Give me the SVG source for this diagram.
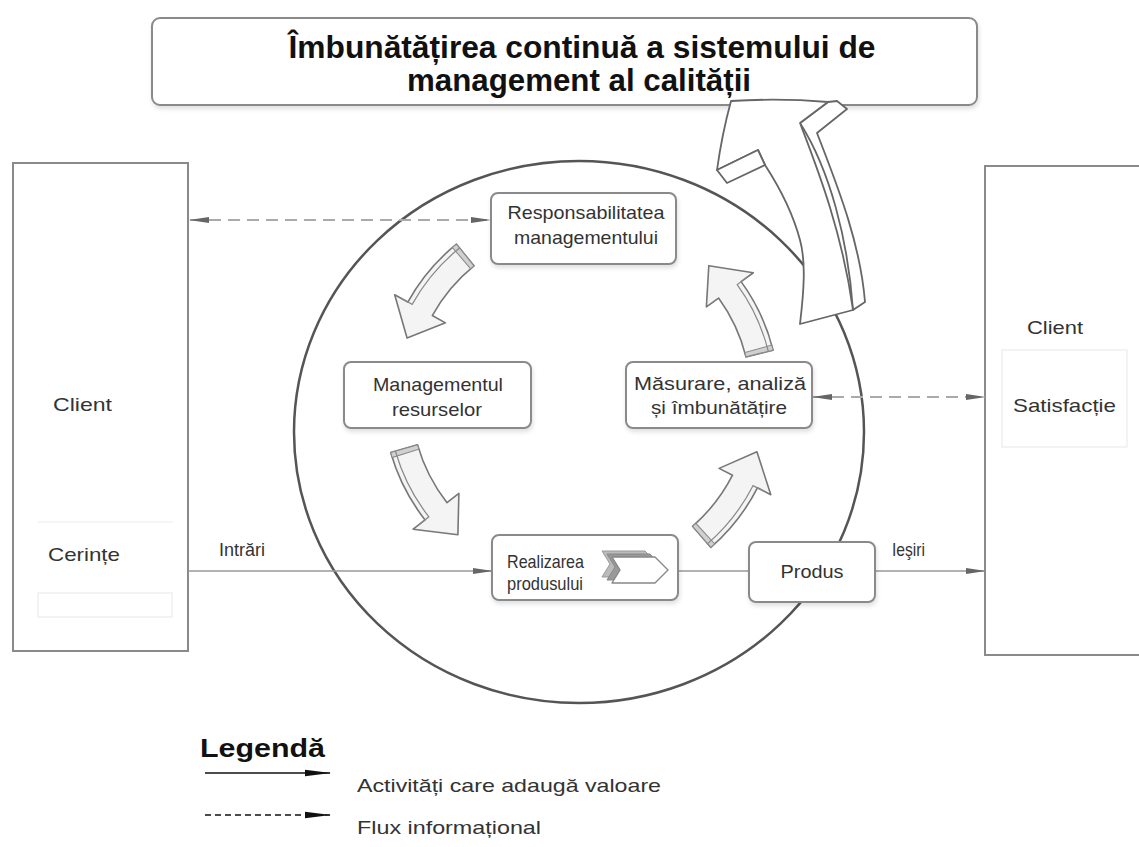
<svg xmlns="http://www.w3.org/2000/svg" width="1139" height="847" viewBox="0 0 1139 847">
<style>
 .box{fill:#fff;stroke:#8a8a8a;stroke-width:2}
 .sh{filter:url(#shadow)}
 .faint{fill:none;stroke:#ececec;stroke-width:1.2}
 .t{font-family:"Liberation Sans",Arial,sans-serif;fill:#333;font-size:19px}
 .title{font-family:"Liberation Sans",Arial,sans-serif;font-weight:bold;fill:#111;font-size:31px}
 .solid{stroke:#999;stroke-width:1.6;fill:none}
 .dash{stroke:#aaa;stroke-width:2;fill:none;stroke-dasharray:12 7}
 .carrow{fill:#f4f4f4;stroke:#777;stroke-width:1.6;stroke-linejoin:round}
 .c3d{fill:none;stroke:#888;stroke-width:1.2}
 .big{fill:#fff;stroke:#666;stroke-width:1.8;stroke-linejoin:round}
</style>
<defs>
 <filter id="shadow" x="-10%" y="-10%" width="130%" height="140%">
  <feDropShadow dx="1" dy="3" stdDeviation="2" flood-color="#000" flood-opacity="0.12"/>
 </filter>
 <marker id="ah" viewBox="0 0 20 8" markerWidth="20" markerHeight="8" refX="19" refY="4" orient="auto-start-reverse" markerUnits="userSpaceOnUse">
  <path d="M0,1 L20,4 L0,7 Z" fill="#666"/>
 </marker>
 <marker id="ahk" viewBox="0 0 26 8" markerWidth="26" markerHeight="8" refX="25" refY="4" orient="auto" markerUnits="userSpaceOnUse">
  <path d="M0,0.8 L26,4 L0,7.2 Z" fill="#111"/>
 </marker>
 <g id="cyc">
  <path class="carrow" d="M189.3,57.9 A198,198 0 0 0 197.2,-17.3 L212.2,-18.6 L177.7,-47.6 L154.4,-13.5 L169.4,-14.8 A170,170 0 0 1 162.6,49.7 Z"/>
  <path d="M189.3,57.9 L162.6,49.7 L163.8,45.4 L190.8,52.9 Z" fill="#d0d0d0" stroke="#888" stroke-width="1"/>
  <path class="c3d" d="M184.6,56.4 A193,193 0 0 0 192.3,-16.8 L205,-17.9"/>
 </g>
</defs>

<g id="title">
 <rect class="box sh" x="152" y="18" width="825" height="87" rx="8"/>
 <text class="title" x="582" y="58" text-anchor="middle" textLength="587" lengthAdjust="spacingAndGlyphs">Îmbunătățirea continuă a sistemului de</text>
 <text class="title" x="579" y="91" text-anchor="middle" textLength="344" lengthAdjust="spacingAndGlyphs">management al calității</text>
</g>

<g id="client-left">
 <rect class="box" x="13" y="163" width="175" height="488"/>
 <line class="faint" x1="38" y1="522" x2="173" y2="522"/>
 <rect class="faint" x="38" y="593" width="134" height="24"/>
 <text class="t" x="53" y="411" font-size="20" textLength="59" lengthAdjust="spacingAndGlyphs">Client</text>
 <text class="t" x="48" y="561" font-size="20" textLength="72" lengthAdjust="spacingAndGlyphs">Cerințe</text>
</g>

<g id="client-right">
 <rect class="box" x="985" y="166" width="200" height="489"/>
 <rect class="faint" x="1002" y="350" width="125" height="97"/>
 <text class="t" x="1027" y="334" font-size="20" textLength="56" lengthAdjust="spacingAndGlyphs">Client</text>
 <text class="t" x="1013" y="412" font-size="20" textLength="103" lengthAdjust="spacingAndGlyphs">Satisfacție</text>
</g>

<g id="cycle">
 <ellipse cx="579" cy="432" rx="285" ry="271" fill="none" stroke="#555" stroke-width="2.5"/>
</g>

<g id="connectors">
 <line class="dash" x1="190" y1="220" x2="490" y2="220" marker-start="url(#ah)" marker-end="url(#ah)"/>
 <line class="dash" x1="813" y1="397" x2="985" y2="397" marker-start="url(#ah)" marker-end="url(#ah)"/>
 <line class="solid" x1="188" y1="571" x2="492" y2="571" marker-end="url(#ah)"/>
 <line class="solid" x1="678" y1="571" x2="749" y2="571"/>
 <line class="solid" x1="875" y1="571" x2="985" y2="571" marker-end="url(#ah)"/>
 <text class="t" x="219" y="556" font-size="17" textLength="46" lengthAdjust="spacingAndGlyphs">Intrări</text>
 <text class="t" x="892" y="556" font-size="17" textLength="33" lengthAdjust="spacingAndGlyphs">Ieşiri</text>
</g>

<g id="resp">
 <rect class="box sh" x="491" y="193" width="185" height="71" rx="7"/>
 <text class="t" x="586" y="219" text-anchor="middle" textLength="157" lengthAdjust="spacingAndGlyphs">Responsabilitatea</text>
 <text class="t" x="586" y="244" text-anchor="middle" textLength="144" lengthAdjust="spacingAndGlyphs">managementului</text>
</g>

<g id="mgmt">
 <rect class="box sh" x="344" y="362" width="187" height="66" rx="7"/>
 <text class="t" x="438" y="391" text-anchor="middle" textLength="130" lengthAdjust="spacingAndGlyphs">Managementul</text>
 <text class="t" x="437" y="416" text-anchor="middle" textLength="90" lengthAdjust="spacingAndGlyphs">resurselor</text>
</g>

<g id="masurare">
 <rect class="box sh" x="626" y="362" width="186" height="66" rx="7"/>
 <text class="t" x="720" y="390" text-anchor="middle" textLength="172" lengthAdjust="spacingAndGlyphs">Măsurare, analiză</text>
 <text class="t" x="719" y="414" text-anchor="middle" textLength="136" lengthAdjust="spacingAndGlyphs">și îmbunătățire</text>
</g>

<g id="realizarea">
 <rect class="box sh" x="492" y="535" width="186" height="65" rx="7"/>
 <text class="t" x="507" y="568" font-size="16" textLength="77" lengthAdjust="spacingAndGlyphs">Realizarea</text>
 <text class="t" x="507" y="590" font-size="16" textLength="76" lengthAdjust="spacingAndGlyphs">produsului</text>
 <g stroke-linejoin="round">
  <path d="M602,551 L645,551 L658,564 L645,577 L602,577 L610,564 Z" fill="#bbb" stroke="#999" stroke-width="1"/>
  <path d="M607,554 L650,554 L663,567 L650,580 L607,580 L615,567 Z" fill="#999" stroke="#888" stroke-width="1"/>
  <path d="M612,557 L655,557 L668,570 L655,583 L612,583 L620,570 Z" fill="#fff" stroke="#888" stroke-width="1.4"/>
 </g>
</g>

<g id="produs">
 <rect class="box sh" x="749" y="542" width="126" height="60" rx="7"/>
 <text class="t" x="812" y="578" font-size="17" text-anchor="middle" textLength="63" lengthAdjust="spacingAndGlyphs">Produs</text>
</g>

<g id="cycle-arrows">
 <use href="#cyc" transform="translate(581,398) rotate(-146)"/>
 <use href="#cyc" transform="translate(581,398) rotate(147)"/>
 <use href="#cyc" transform="translate(581,398) rotate(32)"/>
 <use href="#cyc" transform="translate(581,398) rotate(-31)"/>
</g>

<g id="improvement-arrow">
 <path class="big" d="M828,102 L837,101 L847,109 L817,133 C835,180 860,240 865,302 L853,310 C848,240 830,170 800,123 Z"/>
 <path class="big" d="M731,101 Q780,98 828,102 L800,123 C816,165 842,230 853,310 L800,324 C804,290 806,262 800,240 C792,210 778,185 765,165 L758,150 L717,170 Q722,134 731,101 Z"/>
 <path class="big" d="M758,150 L765,165 L727,183 L717,170 Z"/>
</g>

<g id="legend">
 <text x="200" y="757" font-family="Liberation Sans, Arial, sans-serif" font-weight="bold" font-size="25" fill="#111" textLength="125" lengthAdjust="spacingAndGlyphs">Legendă</text>
 <line x1="205" y1="773" x2="330" y2="773" stroke="#111" stroke-width="1.5" marker-end="url(#ahk)"/>
 <text class="t" x="357" y="792" font-size="20" textLength="304" lengthAdjust="spacingAndGlyphs">Activități care adaugă valoare</text>
 <line x1="205" y1="815" x2="330" y2="815" stroke="#111" stroke-width="1.5" stroke-dasharray="6 4" marker-end="url(#ahk)"/>
 <text class="t" x="357" y="834" font-size="20" textLength="184" lengthAdjust="spacingAndGlyphs">Flux informațional</text>
</g>
</svg>
